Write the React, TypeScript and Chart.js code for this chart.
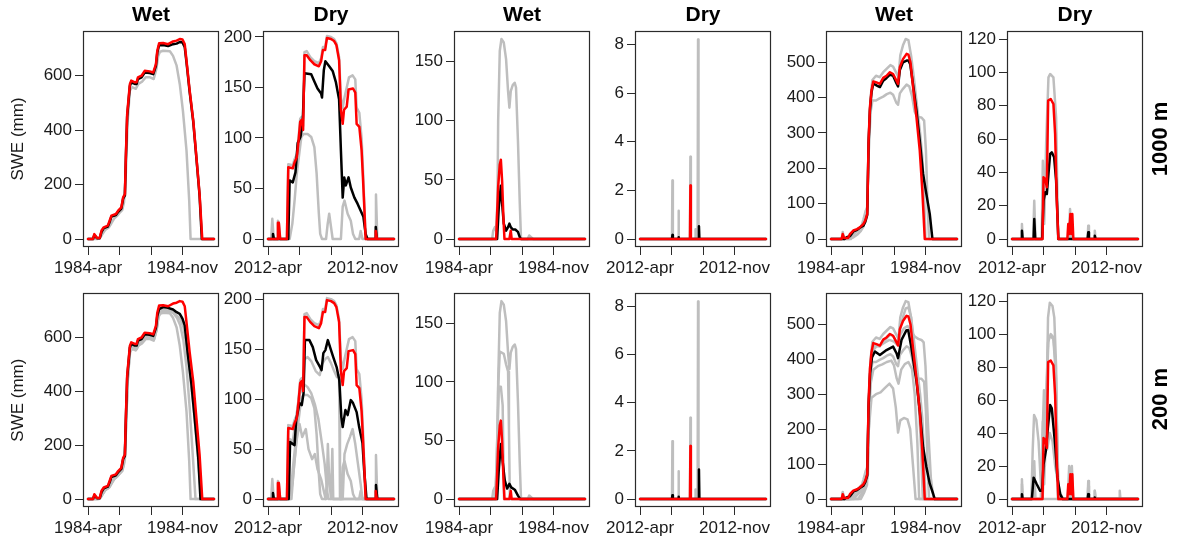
import React, { useEffect, useRef } from 'react';
import { Chart, registerables } from 'chart.js';

Chart.register(...registerables);
Chart.defaults.font.family = "'Liberation Sans', Arial, Helvetica, sans-serif";

type Pts = [number, number][];

// ---------- axes / labels ----------
const seasonDays = 280;
const xTickDays = [0, 70, 140, 210];
const wetXLabels = ['1984-apr', '', '', '1984-nov'];
const dryXLabels = ['2012-apr', '', '', '2012-nov'];
const columnTitles = ['Wet', 'Dry', 'Wet', 'Dry', 'Wet', 'Dry'];
const rowLabels = ['1000 m', '200 m'];
const yAxisLabel = 'SWE (mm)';
const columnYMax = [735, 198, 169, 8.22, 566, 120];
const yTicksA = [0, 200, 400, 600];
const yTicksB = [0, 50, 100, 150, 200];
const yTicksC = [0, 50, 100, 150];
const yTicksD = [0, 2, 4, 6, 8];
const yTicksE = [0, 100, 200, 300, 400, 500];
const yTicksF = [0, 20, 40, 60, 80, 100, 120];

// ---------- column 1 : wet 1984 ----------
const aWetRed: Pts = [[0,0],[11,0],[14,18],[20,4],[26,4],[30,31],[35,43],[44,49],[48,67],[52,86],[62,92],[67,104],[74,116],[78,153],[82,165],[84,300],[87,459],[93,569],[96,582],[104,576],[108,576],[111,594],[119,600],[126,618],[137,616],[145,612],[151,643],[154,692],[158,719],[167,720],[178,716],[189,726],[197,729],[204,735],[210,733],[215,716],[219,655],[226,545],[234,435],[241,300],[248,165],[254,0],[280,0]];
const aWetBlack1000: Pts = [[0,0],[11,0],[14,14],[20,3],[26,3],[30,26],[35,40],[44,46],[48,62],[52,82],[62,88],[67,100],[74,112],[78,148],[82,160],[84,290],[87,450],[93,562],[96,576],[104,570],[108,570],[111,588],[119,594],[126,612],[137,610],[145,606],[151,636],[154,685],[158,712],[167,713],[178,709],[189,716],[197,718],[204,724],[210,722],[215,705],[219,648],[226,540],[234,430],[241,296],[248,160],[253,0],[280,0]];
const aWetGray1000: Pts = [[0,0],[20,0],[26,2],[32,18],[38,33],[46,42],[52,58],[58,75],[64,84],[70,96],[76,106],[80,135],[84,240],[88,430],[93,545],[98,558],[106,552],[112,570],[120,578],[128,594],[138,594],[146,588],[152,625],[156,672],[160,688],[167,692],[182,690],[189,673],[197,637],[204,569],[211,471],[219,324],[225,140],[228,0],[280,0]];
const aWetBlack200: Pts = [[0,0],[11,0],[14,14],[20,3],[26,3],[30,26],[35,40],[44,46],[48,62],[52,82],[62,88],[67,100],[74,112],[78,148],[82,160],[84,290],[87,450],[93,562],[96,576],[104,570],[108,570],[111,588],[119,594],[126,612],[137,610],[145,606],[151,636],[154,680],[158,705],[167,713],[178,710],[189,704],[197,694],[204,688],[210,670],[215,645],[222,535],[230,425],[237,302],[245,155],[250,0],[280,0]];
const aWetGray200b: Pts = [[0,0],[22,0],[28,5],[34,22],[40,36],[48,44],[54,62],[60,78],[66,86],[72,98],[78,120],[82,150],[85,300],[89,470],[94,552],[100,560],[108,556],[113,574],[121,584],[129,600],[139,598],[147,594],[153,632],[157,680],[161,696],[170,700],[182,698],[190,690],[198,672],[205,645],[212,590],[219,490],[226,340],[233,160],[239,0],[280,0]];
const aWetGray200c: Pts = [[0,0],[24,0],[30,12],[36,30],[44,40],[50,55],[56,72],[64,82],[70,94],[76,104],[80,130],[84,260],[88,440],[93,550],[98,565],[106,560],[112,580],[120,588],[128,604],[138,602],[146,598],[152,628],[156,672],[160,698],[170,704],[182,700],[190,692],[198,680],[205,668],[212,640],[218,580],[226,470],[234,350],[241,220],[248,80],[252,0],[280,0]];

// ---------- column 2 : dry 2012 ----------
const aDryRed: Pts = [[0,0],[20,0],[22,16],[24,16],[27,0],[42,0],[45,71],[55,70],[59,76],[64,81],[68,98],[71.5,116],[75,118],[78,108],[81,182],[86,182],[94,177],[103,173],[113,171],[118,176],[122,187],[127,187],[131,199],[140,198],[147,196],[152,192],[158,177],[162,128],[166,114],[169,128],[175,131],[179,148],[189,149],[194,145],[197,114],[203,111],[208,88],[211,61],[214,32],[217,0],[238,0],[239.5,8],[242,0],[280,0]];
const aDryBlack1000: Pts = [[0,0],[9.5,0],[11,5],[13,0],[45,0],[48,58],[55,56],[61,66],[66,95],[72,101],[77,114],[81,164],[96,163],[103,156],[110,149],[118,144],[120,140],[124,167],[127.5,176],[136,171],[144,166],[151,155],[158,138],[162,88],[166,41],[169.5,61],[173,53],[179,61],[184,51],[192,41],[199,35],[206,28],[212,22],[217,5],[221,0],[238,0],[239.5,12],[242,0],[280,0]];
const aDryGray1000a: Pts = [[0,0],[20,0],[22,18],[24,16],[27,0],[42,0],[45,74],[55,73],[59,79],[64,84],[68,101],[71.5,119],[75,121],[78,112],[81,185],[86,186],[94,180],[103,176],[113,174],[118,179],[122,190],[127,190],[131,201],[140,200],[147,198],[152,194],[158,180],[162,140],[166,130],[170,140],[175,150],[180,160],[188,162],[194,158],[197,130],[203,125],[208,100],[211,70],[214,35],[217,0],[280,0]];
const aDryGray1000b: Pts = [[0,0],[7,0],[9.5,20],[12.5,0],[48,0],[54,15],[59,38],[64,65],[68.5,81],[74,101],[79,104],[88,104],[96,101],[103,91],[108,65],[113,25],[116,5],[120,0],[129,0],[132.6,15],[136,25],[140,12],[143.7,0],[162,0],[166,32],[170,38],[177,25],[184,18],[189,5],[194,0],[202.6,0],[206,8],[210,0],[238,0],[240,44],[243,0],[280,0]];
const aDryBlack200: Pts = [[0,0],[9.5,0],[11,6],[13,0],[46,0],[49,57],[59,54],[62.6,79],[70,96],[75,94],[79,106],[82,159],[92,159],[99.5,152],[107,139],[115.7,132],[119,129],[123,146],[127.5,149],[133,159],[140,149],[145,142],[152.5,132],[158.4,119],[163,82],[166,72],[172,89],[177,84],[184,99],[189,96],[197,87],[202.6,72],[210,56],[213.7,29],[219,0],[238,0],[240,14],[243,0],[280,0]];
const aDryGray200c: Pts = [[0,0],[44,0],[48,60],[55,58],[62,80],[70,105],[78,112],[81,140],[88,142],[96,138],[106,128],[115,124],[120,135],[127,140],[133,142],[140,136],[147,128],[153,122],[158,124],[160,0],[280,0]];
const aDryGray200d: Pts = [[0,0],[50,0],[55,30],[62,60],[68,100],[72,112],[80,115],[88,112],[96,106],[104,95],[112,80],[120,55],[126,35],[131,10],[134,0],[280,0]];
const aDryGray200e: Pts = [[0,0],[52,0],[58,35],[64,60],[70,75],[76,62],[84,70],[90,50],[98,40],[104,45],[110,30],[118,20],[124,8],[128,0],[131,18],[133,55],[136,20],[140,0],[143,50],[145,0],[166,0],[170,45],[176,55],[182,62],[188,70],[194,55],[200,35],[206,15],[210,0],[280,0]];

// ---------- column 3 : wet 1984 ----------
const bWetRed: Pts = [[0,0],[82.5,0],[87,44],[90.6,63],[93,67],[95.8,49],[98.7,18],[101,0],[112,0],[115,7],[117,0],[280,0]];
const bWetBlack1000: Pts = [[0,0],[84.7,0],[88.4,27],[93,45],[95.8,30],[99.5,13],[104.6,7],[109,10],[112,13],[115,10],[119.4,8],[125,8],[131,6],[135.6,1],[138.5,0],[280,0]];
const bWetGray1000: Pts = [[0,0],[73.7,0],[76,7],[79.6,10],[82.5,7],[85.5,32],[87,100],[90.6,159],[94.3,169],[99.5,166],[104.6,152],[109,125],[112,111],[115,125],[119.4,130],[123.8,132],[126.7,128],[131,83],[134.9,32],[137.8,0],[153,0],[156,3],[162,1],[165,0],[280,0]];
const bWetBlack200: Pts = [[0,0],[84.7,0],[88.4,25],[93,47],[97,32],[101.7,16],[107,9],[112,13],[116,10],[124,8],[131,3],[136,0],[280,0]];
const bWetGray200b: Pts = [[0,0],[80,0],[84,30],[87,95],[90.6,126],[99.5,124],[104.6,115],[109,109],[111,60],[113,0],[280,0]];
const bWetGray200c: Pts = [[0,0],[81,0],[84,40],[88.4,96],[93,96],[97,80],[100,0],[280,0]];

// ---------- column 4 : dry 2012 ----------
const bDryRed: Pts = [[0,0],[111,0],[112,2.2],[113,0],[280,0]];
const bDryBlack1000: Pts = [[0,0],[71,0],[72,0.16],[73,0],[84.5,0],[85.5,0.07],[86.5,0],[130,0],[131,0.52],[132,0],[280,0]];
const bDryGray1000: Pts = [[0,0],[71,0],[72,2.4],[73,0],[84.5,0],[85.5,1.16],[86.5,0],[111,0],[112,3.38],[113,0],[122.5,0],[123.5,0.4],[124.5,0],[128,0],[129,8.2],[130,0],[280,0]];
const bDryBlack200: Pts = [[0,0],[71,0],[72,0.16],[73,0],[84.5,0],[85.5,0.1],[86.5,0],[130,0],[131,1.23],[132,0],[280,0]];

// ---------- column 5 : wet 1984 ----------
const cWetRed: Pts = [[0,0],[23.6,0],[26,14],[29,3],[38,3],[42,14],[49.5,24],[58,28],[64,33],[71.7,42],[76,52],[80.5,71],[83.5,278],[86.5,373],[90,420],[94,446],[101,443],[108.6,439],[116,456],[123.4,462],[131,472],[138,467],[145.6,448],[149,439],[153,486],[160,509],[168,524],[172,522],[176.6,500],[182.5,429],[190,344],[197.3,250],[203,137],[208.4,0],[280,0]];
const cWetBlack1000: Pts = [[0,0],[30,0],[35,5],[42,8],[50,22],[58,26],[64,32],[72,38],[76,48],[80.5,68],[83.5,270],[86.5,365],[90,415],[94,440],[101,435],[108.6,430],[116,448],[123,455],[131,465],[138,462],[145.6,440],[149,432],[153,478],[160,500],[168,505],[172,505],[176,495],[182,440],[190,363],[197.3,278],[204.7,184],[212,127],[219.5,71],[225.4,0],[280,0]];
const cWetGray1000a: Pts = [[0,0],[24,0],[26,20],[29,0],[44,0],[50,12],[58,22],[66,30],[72,55],[77,80],[80.5,90],[84,290],[88,400],[92,450],[100,462],[108,458],[116,472],[124,482],[132,492],[138,488],[146,468],[150,458],[154,520],[160,548],[166,566],[172,563],[178,519],[184,458],[190,390],[198,300],[203,230],[207,120],[210,0],[280,0]];
const cWetGray1000b: Pts = [[0,0],[40,0],[50,5],[58,12],[66,22],[72,35],[76,60],[80,80],[84,250],[88,360],[92,392],[100,392],[108,398],[116,403],[124,410],[132,414],[138,408],[145,386],[149,380],[153,412],[160,425],[168,437],[174,432],[180,405],[186,360],[192,345],[201,344],[207,335],[211,250],[215,80],[218,0],[280,0]];
const cWetBlack200: Pts = [[0,0],[30,0],[35,5],[42,8],[50,22],[58,26],[64,32],[72,38],[76,48],[80.5,68],[83.5,265],[87,360],[91,405],[97.6,422],[108.6,412],[123.4,426],[138,436],[145.6,417],[149,403],[156.7,455],[167.8,483],[171.5,483],[178.9,431],[190,337],[197.3,252],[204.7,148],[212,92],[219.5,44],[226.9,16],[230.6,0],[280,0]];
const cWetGray200c: Pts = [[0,0],[24,0],[26,18],[29,0],[40,0],[48,15],[56,25],[64,35],[72,45],[78,60],[81,80],[84,280],[88,390],[92,435],[100,440],[108,436],[116,452],[124,460],[132,470],[138,466],[146,450],[150,440],[154,490],[160,520],[166,545],[172,548],[178,520],[184,440],[190,350],[196,250],[200,150],[204,0],[280,0]];
const cWetGray200d: Pts = [[0,0],[60,0],[70,20],[76,40],[80,60],[84,200],[88,330],[94,370],[104,380],[114,385],[124,392],[134,396],[140,382],[146,345],[150,330],[156,370],[164,386],[172,392],[180,372],[186,300],[192,160],[196,0],[280,0]];
const cWetGray200e: Pts = [[0,0],[66,0],[74,20],[80,40],[84,200],[90,290],[100,300],[110,305],[120,318],[130,330],[138,316],[144,262],[149,190],[154,225],[162,232],[170,228],[176,200],[182,100],[188,0],[280,0]];
const cWetGray200f: Pts = [[0,0],[50,0],[60,15],[70,30],[78,50],[82,70],[85,300],[90,420],[100,435],[110,440],[120,448],[130,455],[140,450],[148,440],[154,470],[162,488],[170,495],[178,480],[186,465],[194,458],[201,455],[206,448],[210,380],[216,200],[222,60],[228,0],[280,0]];

// ---------- column 6 : dry 2012 ----------
const cDryRed: Pts = [[0,0],[67.8,0],[70,37],[73.7,36],[77.4,31],[80.3,83],[86,84],[92,81],[95.8,63],[99.5,23],[103,0],[123,0],[125,9],[127.5,3],[129.7,15],[132,3],[134,15],[136.3,0],[280,0]];
const cDryBlack1000: Pts = [[0,0],[20.6,0],[22,5],[23.6,0],[48,0],[49.4,12],[51.6,0],[67,0],[70,23],[73.7,28],[77.4,27],[81,39],[84.7,51],[88.4,52],[93.6,49],[98,35],[103,0],[168,0],[169.5,4],[171,0],[182.8,0],[184,2],[185.7,0],[280,0]];
const cDryGray1000: Pts = [[0,0],[20.6,0],[22,9],[23.6,0],[47,0],[49.4,23],[52,0],[66,0],[68.5,47],[71.5,9],[76,59],[81,97],[84.7,99],[92,97],[98,73],[102.4,0],[126,0],[129,18],[132,0],[168,0],[169.5,8],[171,0],[182.8,0],[184,5],[185.7,0],[280,0]];
const cDryBlack200: Pts = [[0,0],[20.6,0],[22,3],[23.6,0],[44,0],[48,13],[55,9],[62.6,5],[67,5],[70,21],[75,29],[79.6,43],[84.7,57],[88.4,55],[95.8,33],[101,13],[107,3],[112.7,0],[168,0],[169.5,3],[171,0],[182.8,0],[184,1],[185.7,0],[280,0]];
const cDryGray200a: Pts = [[0,0],[20.6,0],[22,12],[23.6,0],[66,0],[70,47],[73,20],[77,60],[80,110],[84,119],[90,117],[94,110],[98,80],[102,0],[280,0]];
const cDryGray200b: Pts = [[0,0],[68,0],[72,30],[76,60],[80,95],[86,100],[92,98],[96,85],[100,40],[104,0],[280,0]];
const cDryGray200c: Pts = [[0,0],[64,0],[68,40],[71,66],[74,50],[78,30],[84,40],[90,35],[96,20],[102,10],[108,3],[114,0],[124,0],[127,20],[130,10],[133,20],[136,0],[168,0],[169.5,11],[171,0],[182.8,0],[184,5],[185.7,0],[238,0],[239.5,5],[241,0],[280,0]];
const cDryGray200d: Pts = [[0,0],[43,0],[46,30],[49,51],[54,48],[59,35],[64,10],[67,0],[280,0]];

// ---------- layout (page pixels) ----------
const boxLefts = [83, 263, 454, 635, 826, 1007];
const boxW = 136;
const rowBoxTop = [31, 290];
const rowBoxBottom = [247, 507];

const columnYTicks = [yTicksA, yTicksB, yTicksC, yTicksD, yTicksE, yTicksF];
const columnXLabels = [wetXLabels, dryXLabels, wetXLabels, dryXLabels, wetXLabels, dryXLabels];

const panelSeries: { red: Pts; black: Pts; grays: Pts[] }[][] = [
  [
    { red: aWetRed, black: aWetBlack1000, grays: [aWetGray1000] },
    { red: aDryRed, black: aDryBlack1000, grays: [aDryGray1000a, aDryGray1000b] },
    { red: bWetRed, black: bWetBlack1000, grays: [bWetGray1000] },
    { red: bDryRed, black: bDryBlack1000, grays: [bDryGray1000] },
    { red: cWetRed, black: cWetBlack1000, grays: [cWetGray1000a, cWetGray1000b] },
    { red: cDryRed, black: cDryBlack1000, grays: [cDryGray1000] },
  ],
  [
    { red: aWetRed, black: aWetBlack200, grays: [aWetGray1000, aWetGray200b, aWetGray200c] },
    { red: aDryRed, black: aDryBlack200, grays: [aDryGray1000a, aDryGray1000b, aDryGray200c, aDryGray200d, aDryGray200e] },
    { red: bWetRed, black: bWetBlack200, grays: [bWetGray1000, bWetGray200b, bWetGray200c] },
    { red: bDryRed, black: bDryBlack200, grays: [bDryGray1000] },
    { red: cWetRed, black: cWetBlack200, grays: [cWetGray1000a, cWetGray1000b, cWetGray200c, cWetGray200d, cWetGray200e, cWetGray200f] },
    { red: cDryRed, black: cDryBlack200, grays: [cDryGray200a, cDryGray200b, cDryGray200c, cDryGray200d, cDryGray1000] },
  ],
];

const RED = '#ff0000';
const BLACK = '#000000';
const GRAY = '#bebebe';
const TEXT = '#1a1a1a';
const LINE_W = 2.5;

const boxPlugin = {
  id: 'panelBox',
  afterDatasetsDraw(chart: any) {
    const { ctx, chartArea } = chart;
    const l = Math.round(chartArea.left) + 0.5;
    const t = Math.round(chartArea.top) + 0.5;
    const r = Math.round(chartArea.right) - 0.5;
    const b = Math.round(chartArea.bottom) - 0.5;
    ctx.save();
    ctx.strokeStyle = '#2b2b2b';
    ctx.lineWidth = 1.2;
    ctx.strokeRect(l, t, r - l, b - t);
    ctx.restore();
  },
};

function toXY(p: Pts) {
  return p.map(([x, y]) => ({ x, y }));
}

function Panel({ row, col }: { row: number; col: number }) {
  const ref = useRef<HTMLCanvasElement>(null);
  const yW = col === 0 ? 83 : 60;
  const padRight = 8;
  const xH = 40;
  const padTop = row === 0 ? 0 : 10;
  const titleH = row === 0 ? 31 : 0;
  const boxH = rowBoxBottom[row] - rowBoxTop[row];
  const width = yW + boxW + padRight;
  const height = padTop + titleH + boxH + xH;
  const left = boxLefts[col] - yW;
  const top = rowBoxTop[row] - titleH - padTop;

  useEffect(() => {
    const s = panelSeries[row][col];
    const yMax = columnYMax[col];
    const yTicks = columnYTicks[col];
    const xLabels = columnXLabels[col];
    const common = { borderWidth: LINE_W, pointRadius: 0, fill: false, tension: 0, borderJoinStyle: 'round' as const, borderCapStyle: 'round' as const };
    // draw order: grays at the back, then black, red on top
    const datasets: any[] = [
      ...s.grays.map((g, i) => ({ label: 'member ' + (i + 1), data: toXY(g), borderColor: GRAY, order: 3, ...common })),
      { label: 'mean', data: toXY(s.black), borderColor: BLACK, order: 2, ...common },
      { label: 'reference', data: toXY(s.red), borderColor: RED, order: 1, ...common },
    ];
    const chart = new Chart(ref.current!, {
      type: 'line',
      data: { datasets },
      plugins: [boxPlugin],
      options: {
        responsive: false,
        animation: false,
        events: [],
        layout: { padding: { top: padTop, right: padRight, left: 0, bottom: 0 } },
        plugins: {
          legend: { display: false },
          tooltip: { enabled: false },
          title: {
            display: row === 0,
            text: columnTitles[col],
            fullSize: false,
            color: '#000',
            font: { size: 21, weight: 'bold' },
            padding: { top: 3, bottom: 2.8 },
          },
        },
        scales: {
          x: {
            type: 'linear',
            min: -0.04 * seasonDays,
            max: 1.04 * seasonDays,
            afterBuildTicks: (sc: any) => { sc.ticks = xTickDays.map((v) => ({ value: v })); },
            afterFit: (sc: any) => { sc.height = xH; },
            ticks: {
              autoSkip: false,
              maxRotation: 0,
              minRotation: 0,
              color: TEXT,
              padding: 3,
              font: { size: 17 },
              callback: (_v: any, i: number) => xLabels[i],
            },
            grid: { display: true, drawOnChartArea: false, drawTicks: true, tickLength: 8, color: '#2b2b2b', lineWidth: 1 },
            border: { display: false },
          },
          y: {
            type: 'linear',
            min: -0.04 * yMax,
            max: 1.04 * yMax,
            afterBuildTicks: (sc: any) => { sc.ticks = yTicks.map((v) => ({ value: v })); },
            afterFit: (sc: any) => { sc.width = yW; },
            ticks: { color: TEXT, padding: 3, font: { size: 17 }, callback: (v: any) => String(v) },
            grid: { display: true, drawOnChartArea: false, drawTicks: true, tickLength: 8, color: '#2b2b2b', lineWidth: 1 },
            border: { display: false },
            title: {
              display: col === 0,
              text: yAxisLabel,
              color: TEXT,
              font: { size: 17 },
              padding: { top: 8, bottom: 0 },
            },
          },
        },
      } as any,
    });
    return () => chart.destroy();
  }, [row, col]);

  return (
    <div style={{ position: 'absolute', left, top, width, height }}>
      <canvas ref={ref} width={width} height={height} />
    </div>
  );
}

export default function App() {
  const cells: React.ReactNode[] = [];
  for (let r = 0; r < 2; r++) for (let c = 0; c < 6; c++) cells.push(<Panel key={r + '-' + c} row={r} col={c} />);
  return (
    <div style={{ position: 'absolute', left: 0, top: 0, width: 1178, height: 542, background: '#fff', overflow: 'hidden' }}>
      {cells}
      {rowLabels.map((t, r) => (
        <div
          key={t}
          style={{
            position: 'absolute',
            left: 1160,
            top: (rowBoxTop[r] + rowBoxBottom[r]) / 2,
            transform: 'translate(-50%, -50%) rotate(-90deg)',
            whiteSpace: 'nowrap',
            fontFamily: "'Liberation Sans', Arial, sans-serif",
            fontWeight: 'bold',
            fontSize: 22,
            color: '#000',
          }}
        >
          {t}
        </div>
      ))}
    </div>
  );
}
